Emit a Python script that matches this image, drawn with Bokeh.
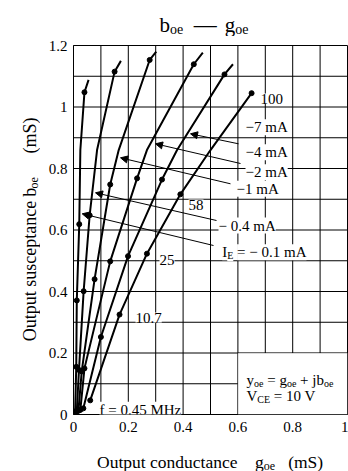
import math
from bokeh.plotting import figure
from bokeh.layouts import column, row
from bokeh.models import Label, Arrow, NormalHead, FixedTicker, BoxAnnotation
from bokeh.embed import file_html
from bokeh.resources import INLINE

FONT = "Liberation Serif"

# ---------------- data ----------------
freqs_mhz = [0.45, 10.7, 25, 58, 100]          # marked frequencies (dots)
ie_labels = ["−0.1 mA", "−0.4 mA", "−1 mA", "−2 mA", "−4 mA", "−7 mA"]

# g_oe (mS) and b_oe (mS) at the marked frequencies, one pair per emitter current
g_ie01 = [0.006, 0.010, 0.012, 0.021, 0.040]
b_ie01 = [0.010, 0.155, 0.371, 0.619, 1.048]
g_ie04 = [0.012, 0.020, 0.037, 0.059, 0.150]
b_ie04 = [0.010, 0.145, 0.401, 0.648, 1.115]
g_ie1 = [0.018, 0.030, 0.077, 0.134, 0.278]
b_ie1 = [0.012, 0.140, 0.440, 0.748, 1.153]
g_ie2 = [0.025, 0.040, 0.134, 0.232, 0.439]
b_ie2 = [0.015, 0.150, 0.498, 0.768, 1.139]
g_ie4 = [0.036, 0.100, 0.199, 0.323, 0.551]
b_ie4 = [0.020, 0.252, 0.515, 0.764, 1.106]
g_ie7 = [0.061, 0.168, 0.268, 0.390, 0.650]
b_ie7 = [0.046, 0.325, 0.523, 0.716, 1.045]

# extra points (no marker) between 58 and 100 MHz
g_mid = [0.025, 0.086, 0.165, 0.268, 0.378, 0.500]
b_mid = [0.860, 0.860, 0.860, 0.860, 0.860, 0.860]
# where each curve ends beyond its 100 MHz dot (None: ends at the dot)
g_end = [0.055, 0.173, 0.302, 0.472, 0.582, None]
b_end = [1.088, 1.150, 1.180, 1.177, 1.139, None]

x_ticks = [0, 0.2, 0.4, 0.6, 0.8, 1.0]
y_ticks = [0, 0.2, 0.4, 0.6, 0.8, 1.0, 1.2]
grid_x = [0.1, 0.2, 0.3, 0.4, 0.5, 0.6, 0.7, 0.8, 0.9]
grid_y = [0.1, 0.2, 0.3, 0.4, 0.5, 0.6, 0.7, 0.8, 0.9, 1.0, 1.1]

g_sets = [g_ie01, g_ie04, g_ie1, g_ie2, g_ie4, g_ie7]
b_sets = [b_ie01, b_ie04, b_ie1, b_ie2, b_ie4, b_ie7]

# ---------------- layout constants (page px) ----------------
PAGE_W, PAGE_H = 348, 471
TITLE_H = 36
YLAB_W = 40
X0, X1, Y0, Y1 = 0.0, 1.0, 0.0, 1.2
FL, FT, FW, FH = 73.0, 45.0, 274.0, 369.0   # frame on the page
FB = FT + FH
MAIN_BOTTOM = 26
MAIN_H = int(FT - TITLE_H) + int(FH) + MAIN_BOTTOM
XLAB_H = PAGE_H - TITLE_H - MAIN_H

W = {' ': 250, '−': 564, '=': 564, '+': 564, '.': 250, '(': 333, ')': 333,
     '—': 1000, 'C': 667, 'E': 611, 'I': 333, 'M': 889, 'O': 722, 'S': 556,
     'V': 722, 'H': 722, 'a': 444, 'b': 500, 'c': 444, 'd': 500, 'e': 444,
     'f': 333, 'g': 500, 'h': 500, 'i': 278, 'j': 278, 'm': 778, 'n': 500,
     'o': 500, 'p': 500, 'r': 333, 's': 389, 't': 278, 'u': 500, 'y': 500,
     'z': 444}


def tw(s, size):
    return sum(W.get(ch, 500) for ch in s) * size / 1000.0


def split_parts(parts):
    """return (offset, width, text, size, drop) with spaces turned into offsets"""
    off = 0.0
    out = []
    for text, size, drop in parts:
        lead = len(text) - len(text.lstrip(' '))
        off += lead * 250 * size / 1000.0
        body = text.strip(' ')
        w = tw(body, size)
        if body:
            out.append((off, w, body, size, drop))
        off += w
        trail = len(text) - len(text.rstrip(' ')) if body else 0
        off += trail * 250 * size / 1000.0
    return out


def text_fig(w, h):
    f = figure(width=w, height=h, x_range=(0, w), y_range=(h, 0),
               output_backend="svg", toolbar_location=None,
               x_axis_type=None, y_axis_type=None, min_border=0,
               outline_line_color=None, background_fill_color=None,
               border_fill_color=None)
    return f


def fig_rich(f, x, y, parts, angle=0.0):
    items = split_parts(parts)
    for k, (off, w, text, size, drop) in enumerate(items):
        align = "left"
        if angle == 0.0:
            px, py = x + off, y + drop
        else:
            px, py = x + drop, y - off
            if k == 0:            # anchor the first piece at its end
                py = y - off - w
                align = "right"
        f.add_layout(Label(x=px, y=py, text=text, angle=angle,
                           text_font=FONT, text_font_size=f"{size}px",
                           text_baseline="alphabetic", text_align=align,
                           text_color="black"))


# ---------------- main chart ----------------
p = figure(width=PAGE_W - YLAB_W, height=MAIN_H, x_range=(X0, X1), y_range=(Y0, Y1),
           output_backend="svg", toolbar_location=None,
           min_border_left=int(FL - YLAB_W), min_border_right=1,
           min_border_top=int(FT - TITLE_H), min_border_bottom=MAIN_BOTTOM,
           background_fill_color=None, border_fill_color=None)

for ax, ticks, standoff in ((p.xaxis, x_ticks, 7), (p.yaxis, y_ticks, 6)):
    ax.ticker = FixedTicker(ticks=ticks)
    ax.major_label_overrides = {0: "0"}
    ax.major_tick_out = 0
    ax.major_tick_in = 0
    ax.minor_tick_out = 0
    ax.minor_tick_in = 0
    ax.axis_line_color = "black"
    ax.major_label_text_font = FONT
    ax.major_label_text_font_size = "15px"
    ax.major_label_text_color = "black"
    ax.major_label_standoff = standoff

p.grid.visible = False
p.outline_line_color = "black"
p.outline_line_width = 1

# grid lines every 0.1 mS (drawn through the plot scales)
p.segment(x0=grid_x, y0=[Y0] * len(grid_x), x1=grid_x, y1=[Y1] * len(grid_x),
          line_color="black", line_width=1)
p.segment(x0=[X0] * len(grid_y), y0=grid_y, x1=[X1] * len(grid_y), y1=grid_y,
          line_color="black", line_width=1)

# conditions box (lower right)
p.add_layout(BoxAnnotation(left=0.6, right=1.0, bottom=0.0, top=0.2,
                           fill_color="white", fill_alpha=1.0,
                           line_color="black", line_width=1))

# curves and frequency dots
for i in range(6):
    g, b = g_sets[i], b_sets[i]
    path_g = g[:4] + [g_mid[i], g[4]]
    path_b = b[:4] + [b_mid[i], b[4]]
    if g_end[i] is not None:
        path_g.append(g_end[i])
        path_b.append(b_end[i])
    p.line(path_g, path_b, line_color="black", line_width=2, line_join="round")
    p.scatter(g, b, size=5, color="black")


def dx(px):
    return X0 + (px - FL) / FW * (X1 - X0)


def dy(py):
    return Y0 + (FB - py) / FH * (Y1 - Y0)


def lab_rich(px, py, parts, bg=None):
    for off, w, text, size, drop in split_parts(parts):
        lab = Label(x=dx(px), y=dy(py), x_offset=off, y_offset=-drop, text=text,
                    text_font=FONT, text_font_size=f"{size}px",
                    text_baseline="alphabetic", text_align="left",
                    text_color="black")
        if bg is not None:
            lab.background_fill_color = bg
        p.add_layout(lab)


# leader arrows to the curves
arrows = [((238, 143.3), (190, 133.3)),
          ((240, 163.0), (155, 143.3)),
          ((230, 183.3), (120, 157.3)),
          ((216, 220.0), (95, 192.3)),
          ((213, 245.0), (81.7, 213.3))]
for (sx, sy), (ex, ey) in arrows:
    p.add_layout(Arrow(x_start=dx(sx), y_start=dy(sy), x_end=dx(ex), y_end=dy(ey),
                       line_color="black", line_width=1,
                       end=NormalHead(size=7, fill_color="black", line_color="black")))

# labels: current values and frequencies
lab_rich(260, 98, [("100", 15, 0)], bg="white")
lab_rich(245, 126.7, [(ie_labels[5], 15, 0)], bg="white")
lab_rich(245, 151.7, [(ie_labels[4], 15, 0)], bg="white")
lab_rich(245, 171.7, [(ie_labels[3], 15, 0)], bg="white")
lab_rich(236, 188.3, [(ie_labels[2], 15, 0)], bg="white")
lab_rich(188, 204, [("58", 15, 0)], bg="white")
lab_rich(218, 225, [("− 0.4 mA", 15, 0)], bg="white")
lab_rich(221.7, 251.7, [("I", 15, 0), ("E", 10, 3.5), (" = − 0.1 mA", 15, 0)], bg="white")
lab_rich(159, 259, [("25", 15, 0)], bg="white")
lab_rich(135, 317, [("10.7", 15, 0)], bg="white")
lab_rich(99, 409.3, [("f = 0.45 MHz", 15, 0)], bg="white")

# conditions
lab_rich(246, 379, [("y", 15, 0), ("oe", 10, 3.5), (" = g", 15, 0), ("oe", 10, 3.5),
                    (" + jb", 15, 0), ("oe", 10, 3.5)])
lab_rich(246, 395.5, [("V", 15, 0), ("CE", 10, 3.5), (" = 10 V", 15, 0)])

# ---------------- title and axis titles ----------------
tf = text_fig(PAGE_W, TITLE_H)
fig_rich(tf, 159, 24, [("b", 21, 0), ("oe", 14, 4.5), ("  ", 21, 0), ("—", 23, 0),
                       (" ", 32, 0), ("g", 21, 0), ("oe", 14, 4.5)])

yf = text_fig(YLAB_W, MAIN_H)
fig_rich(yf, 29, 346.5 - TITLE_H, [("Output susceptance", 18, 0), (" b", 18, 0),
                                   ("oe", 12, 4), ("      (mS)", 18, 0)],
         angle=math.pi / 2)

top_of_xlab = TITLE_H + MAIN_H
xf = text_fig(PAGE_W, XLAB_H)
fig_rich(xf, 96.5, 461.5 - top_of_xlab,
         [("Output conductance", 17.5, 0), ("    g", 17.5, 0),
          ("oe", 12, 3.5), ("   (mS)", 17.5, 0)])

layout = column(tf, row(yf, p), xf)

open("out.html", "w").write(file_html(layout, INLINE))
